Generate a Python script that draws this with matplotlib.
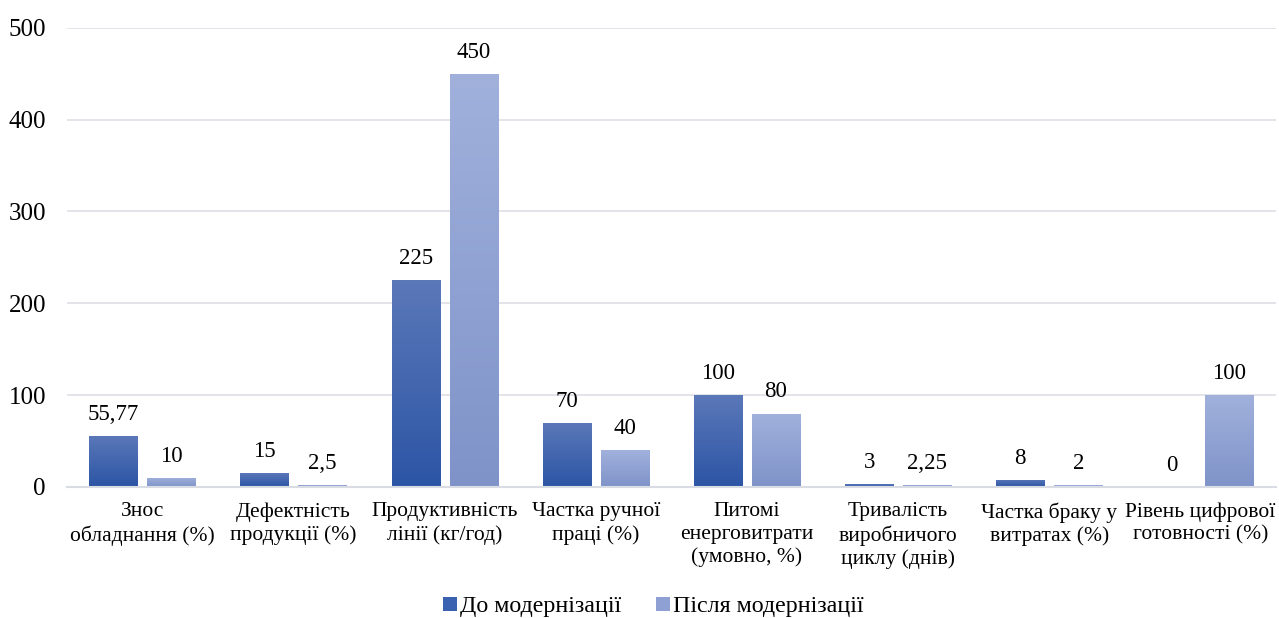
import matplotlib
matplotlib.use('Agg')
import matplotlib.pyplot as plt
import numpy as np
from matplotlib.colors import LinearSegmentedColormap

plt.rcParams['font.family'] = ['Liberation Serif', 'DejaVu Serif']

categories = ['Знос\nобладнання (%)', 'Дефектність\nпродукції (%)', 'Продуктивність\nлінії (кг/год)',
              'Частка ручної\nпраці (%)', 'Питомі\nенерговитрати\n(умовно, %)', 'Тривалість\nвиробничого\nциклу (днів)',
              'Частка браку у\nвитратах (%)', 'Рівень цифрової\nготовності (%)']
before = [55.77, 15, 225, 70, 100, 3, 8, 0]
after = [10, 2.5, 450, 40, 80, 2.25, 2, 100]
series_names = ['До модернізації', 'Після модернізації']

fig = plt.figure(figsize=(12.79, 6.18), dpi=100)
ax = fig.add_axes([0.0522, 0.212, 0.9455, 0.743])

x = np.arange(len(categories))
w = 0.318
off = 0.192

bars1 = ax.bar(x - off, before, w, color='#3a62b0', label=series_names[0], zorder=2)
bars2 = ax.bar(x + off, after, w, color='#8fa1d4', label=series_names[1], zorder=2)

# вертикальний градієнт як в Excel
def gradient(bars, top, bottom):
    cmap = LinearSegmentedColormap.from_list('g', [bottom, top])
    grad = np.linspace(0, 1, 256).reshape(-1, 1)
    for b in bars:
        if b.get_height() <= 0:
            continue
        x0, y0 = b.get_x(), b.get_y()
        im = ax.imshow(grad, cmap=cmap, origin='lower', aspect='auto',
                       extent=[x0, x0 + b.get_width(), y0, y0 + b.get_height()], zorder=2.5)
        im.set_clip_path(b)

gradient(bars1, '#5b78b9', '#2c55a5')
gradient(bars2, '#a1b1dc', '#7f93c9')

def fmt(v):
    s = f'{v:g}'
    return s.replace('.', ',')

for xi, v in zip(x, before):
    ax.text(xi - off, v + 12, fmt(v), ha='center', va='bottom', fontsize=16.5)
for xi, v in zip(x, after):
    ax.text(xi + off, v + 12, fmt(v), ha='center', va='bottom', fontsize=16.5)

ax.set_xlim(-0.5, len(categories) - 0.5)
ax.set_ylim(0, 500)
ax.set_yticks([0, 100, 200, 300, 400, 500])
ax.yaxis.grid(True, color='#dfe2e8', linewidth=1.3, zorder=0)
ax.set_axisbelow(True)
for s in ['top', 'right', 'left']:
    ax.spines[s].set_visible(False)
ax.spines['bottom'].set_color('#d9dce3')
ax.spines['bottom'].set_linewidth(1.5)
ax.tick_params(axis='both', length=0, labelsize=18)
ax.tick_params(axis='y', pad=15)
ax.set_xticks(x)
ax.set_xticklabels(categories, fontsize=15.5, linespacing=1.25)
ax.tick_params(axis='x', pad=11)

fig.legend(handles=[bars1, bars2], labels=series_names, loc='center', bbox_to_anchor=(0.511, 0.018),
           ncol=2, frameon=False, fontsize=17.3, handlelength=0.55, handleheight=0.55,
           handletextpad=0.15, columnspacing=1.45, borderpad=0)

fig.savefig('out.png', dpi=100, facecolor='white')
